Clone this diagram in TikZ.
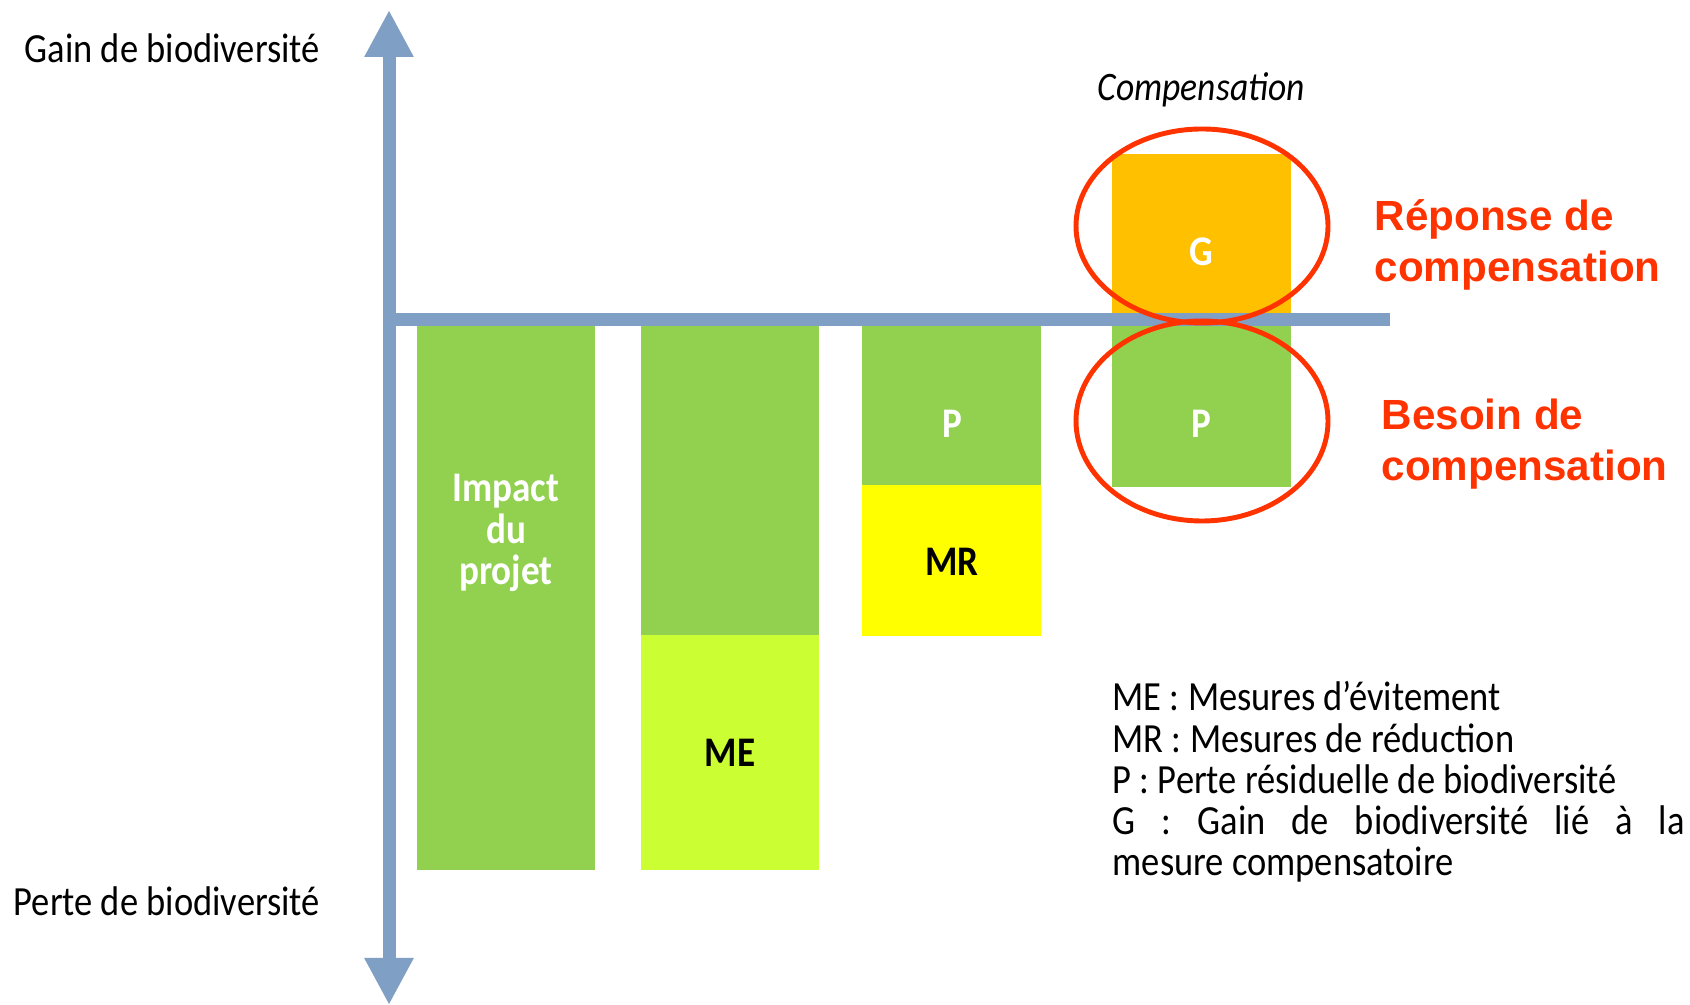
\documentclass[tikz,border=0pt]{standalone}
\usepackage{fontspec}
\setmainfont{Carlito}[FakeStretch=0.88]
\newfontfamily\arialfont{Liberation Sans}
\usetikzlibrary{arrows.meta}

\definecolor{axisblue}{RGB}{127,159,196}
\definecolor{barGreen}{RGB}{146,208,80}
\definecolor{avoidLime}{RGB}{204,255,51}
\definecolor{reduceYellow}{RGB}{255,255,0}
\definecolor{gainOrange}{RGB}{255,192,0}
\definecolor{ringRed}{RGB}{255,51,0}

\begin{document}
\begin{tikzpicture}[x=0.1mm,y=-0.1mm,
    axis/.style={axisblue, line width=1.3mm, >={Triangle[width=4.6mm,length=4.7mm]}},
    ring/.style={ringRed, line width=1.4pt},
    lbl/.style={font=\fontsize{12}{11.7}\selectfont\bfseries, inner sep=0pt},
    side/.style={font=\fontsize{11.8}{11.7}\selectfont, anchor=base west, inner sep=0pt},
    note/.style={ringRed, font=\arialfont\bfseries\fontsize{12}{14.7}\selectfont,
                 anchor=base west, align=left, inner sep=0pt}]
    \useasboundingbox[fill=white] (0,0) rectangle (1690,1005);

    % bars below / above the axis
    \fill[barGreen] (417,326) rectangle (595,870);
    \fill[barGreen] (641,326) rectangle (819,635);
    \fill[avoidLime] (641,635) rectangle (819,870);
    \fill[barGreen] (862,326) rectangle (1041,485);
    \fill[reduceYellow] (862,485) rectangle (1041,636);
    \fill[gainOrange] (1112,154) rectangle (1291,319);
    \fill[barGreen] (1112,326) rectangle (1291,487);

    % axes
    \draw[axis, <->] (389,1005) -- (389,10);
    \draw[axis] (383,320) -- (1390,320);

    % rings round G and P
    \draw[ring] (1202,226) ellipse [x radius=12.6mm, y radius=9.7mm];
    \draw[ring] (1202,421) ellipse [x radius=12.6mm, y radius=10mm];

    \node[lbl, white, align=center] (impact) at (506,533) {Impact\\du\\projet};
    \node[lbl] (me) at (730,753) {ME};
    \node[lbl, white] (p1) at (952,424) {P};
    \node[lbl] (mr) at (952,562) {MR};
    \node[lbl, white] (g) at (1201,252) {G};
    \node[lbl, white] (p2) at (1201,424) {P};

    \node[side] (gain) at (24,63) {Gain de biodiversité};
    \node[side] (perte) at (13,916) {Perte de biodiversité};
    \node[side, font=\fontsize{11.5}{11.7}\selectfont\itshape] (comp) at (1097,101) {Compensation};

    % base of a two-line node sits on its last line
    \node[note] (reponse) at (1374,282) {Réponse de\\compensation};
    \node[note] (besoin) at (1381,481) {Besoin de\\compensation};

    \node[side, text width=57.2mm, align=justify]
        (legend) at (1112,711) {ME : Mesures d’évitement\par
        MR : Mesures de réduction\par
        P : Perte résiduelle de biodiversité\par
        G : Gain de biodiversité lié à la\linebreak mesure compensatoire};
\end{tikzpicture}
\end{document}
